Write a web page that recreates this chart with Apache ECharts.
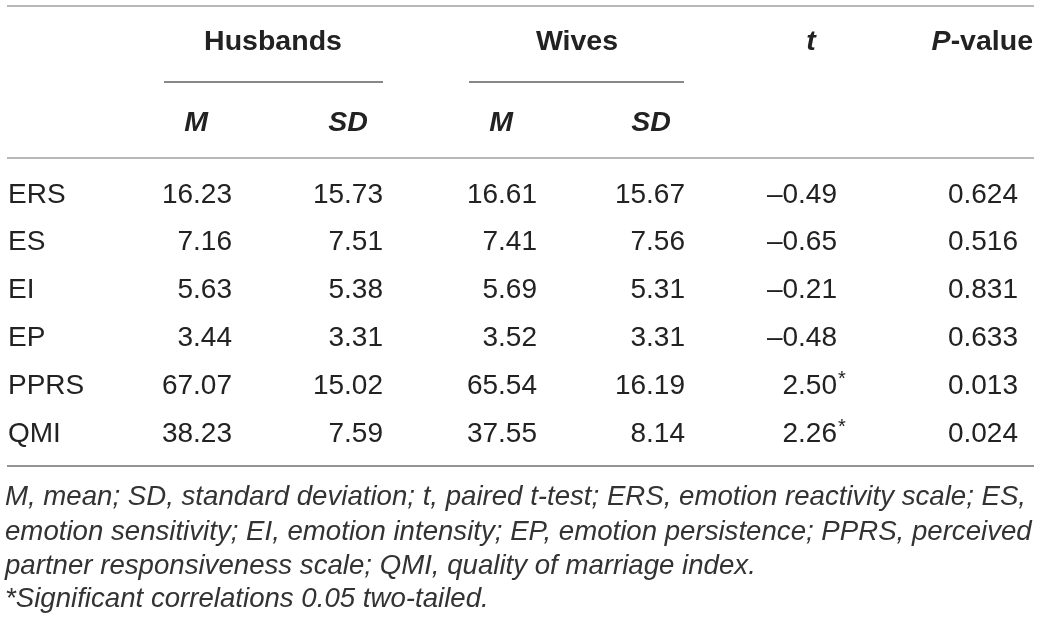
<!DOCTYPE html>
<html><head><meta charset="utf-8">
<script src="https://cdn.jsdelivr.net/npm/echarts@6.0.0/dist/echarts.min.js"></script>
<style>html,body{margin:0;padding:0;background:#fff}#c{width:1044px;height:627px}</style>
</head><body><div id="c"></div>
<script>
// ---- data ----
const categories = ['ERS', 'ES', 'EI', 'EP', 'PPRS', 'QMI'];
const husbandsM  = [16.23, 7.16, 5.63, 3.44, 67.07, 38.23];
const husbandsSD = [15.73, 7.51, 5.38, 3.31, 15.02, 7.59];
const wivesM     = [16.61, 7.41, 5.69, 3.52, 65.54, 37.55];
const wivesSD    = [15.67, 7.56, 5.31, 3.31, 16.19, 8.14];
const tValues    = [-0.49, -0.65, -0.21, -0.48, 2.50, 2.26];
const significant = [false, false, false, false, true, true];
const pValues    = [0.624, 0.516, 0.831, 0.633, 0.013, 0.024];
const groupHeaders = ['Husbands', 'Wives'];
const subHeaders = ['M', 'SD', 'M', 'SD'];
const tHeader = 't';
const pHeader = ['P', '-value'];
const footnotes = [
  'M, mean; SD, standard deviation; t, paired t-test; ERS, emotion reactivity scale; ES,',
  'emotion sensitivity; EI, emotion intensity; EP, emotion persistence; PPRS, perceived',
  'partner responsiveness scale; QMI, quality of marriage index.',
  '*Significant correlations 0.05 two-tailed.'
];

// ---- layout (positions / styles) ----
const FONT = '"Liberation Sans", Arial, Helvetica, sans-serif';
const TXT = '#222';
const colLayout = [
  { x: 8,    align: 'left'  },  // row label
  { x: 232,  align: 'right' },  // husbands M
  { x: 383,  align: 'right' },  // husbands SD
  { x: 537,  align: 'right' },  // wives M
  { x: 685,  align: 'right' },  // wives SD
  { x: 837,  align: 'right' },  // t
  { x: 1018, align: 'right' }   // p
];
const fmt2 = v => (v < 0 ? '\u2013' : '') + Math.abs(v).toFixed(2);
const fmt3 = v => v.toFixed(3);

const cells = [];
categories.forEach((c, i) => {
  const row = [c, fmt2(husbandsM[i]), fmt2(husbandsSD[i]), fmt2(wivesM[i]), fmt2(wivesSD[i]), fmt2(tValues[i]), fmt3(pValues[i])];
  row.forEach((txt, j) => {
    cells.push({ value: [colLayout[j].x, i], text: txt, align: colLayout[j].align, star: j === 5 && significant[i] });
  });
});

// footnote font size fitted to the text block width (two full-width lines)
const mctx = document.createElement('canvas').getContext('2d');
mctx.font = 'italic 22px ' + FONT;
const footSize = Math.min(30,
  22 * 1029 / mctx.measureText(footnotes[0]).width,
  22 * 1027 / mctx.measureText(footnotes[1]).width);

const chart = echarts.init(document.getElementById('c'), null, { renderer: 'canvas' });

const rule = (x1, y, x2, color, w) => ({
  type: 'line', silent: true,
  shape: { x1: x1, y1: y, x2: x2, y2: y },
  style: { stroke: color, lineWidth: w }
});
const htext = (txt, x, y, align, italic) => ({
  type: 'text', x: x, y: y, silent: true,
  style: { text: txt, align: align, verticalAlign: 'middle', textAlign: align, textVerticalAlign: 'middle',
    fontSize: 28.5, fontWeight: 'bold', fontStyle: italic ? 'italic' : 'normal', fontFamily: FONT, fill: TXT }
});

const graphics = [
  rule(7, 6, 1034, '#a0a0a0', 1.6),
  rule(7, 158, 1034, '#a0a0a0', 1.6),
  rule(164, 82, 383, '#606060', 1.4),
  rule(469, 82, 684, '#606060', 1.4),
  rule(7, 466, 1034, '#707070', 1.6),
  htext(groupHeaders[0], 273, 42, 'center', false),
  htext(groupHeaders[1], 577, 42, 'center', false),
  htext(tHeader, 811, 42, 'center', true),
  {
    type: 'text', x: 1033, y: 42, silent: true,
    style: {
      text: '{i|' + pHeader[0] + '}{b|' + pHeader[1] + '}', align: 'right', verticalAlign: 'middle',
      textAlign: 'right', textVerticalAlign: 'middle',
      rich: {
        i: { fontSize: 28.5, fontWeight: 'bold', fontStyle: 'italic', fontFamily: FONT, fill: TXT, color: TXT },
        b: { fontSize: 28.5, fontWeight: 'bold', fontFamily: FONT, fill: TXT, color: TXT }
      }
    }
  },
  htext(subHeaders[0], 196, 123, 'center', true),
  htext(subHeaders[1], 348, 123, 'center', true),
  htext(subHeaders[2], 501, 123, 'center', true),
  htext(subHeaders[3], 651, 123, 'center', true)
];
const footY = [497, 532, 566, 599];
footnotes.forEach((f, k) => {
  graphics.push({
    type: 'text', x: 5, y: footY[k], silent: true,
    style: { text: f, align: 'left', verticalAlign: 'middle', textAlign: 'left', textVerticalAlign: 'middle',
      fontSize: footSize, fontStyle: 'italic', fontFamily: FONT, fill: '#333' }
  });
});

chart.setOption({
  animation: false,
  backgroundColor: '#fff',
  grid: { left: 0, right: 0, top: 171, height: 287, containLabel: false },
  xAxis: { type: 'value', min: 0, max: 1044, show: false },
  yAxis: { type: 'category', data: categories, inverse: true, show: false },
  graphic: graphics,
  series: [{
    type: 'custom',
    coordinateSystem: 'cartesian2d',
    silent: true,
    data: cells,
    renderItem: function (params, api) {
      const cell = cells[params.dataIndex];
      const p = api.coord([api.value(0), api.value(1)]);
      const children = [{
        type: 'text', x: p[0], y: p[1],
        style: { text: cell.text, align: cell.align, verticalAlign: 'middle', textAlign: cell.align, textVerticalAlign: 'middle',
          fontSize: 28, fontFamily: FONT, fill: TXT }
      }];
      if (cell.star) {
        children.push({
          type: 'text', x: p[0] + 1, y: p[1] - 7,
          style: { text: '*', align: 'left', verticalAlign: 'middle', textAlign: 'left', textVerticalAlign: 'middle',
            fontSize: 20, fontFamily: FONT, fill: TXT }
        });
      }
      return { type: 'group', children: children };
    }
  }]
});
</script>
</body></html>
